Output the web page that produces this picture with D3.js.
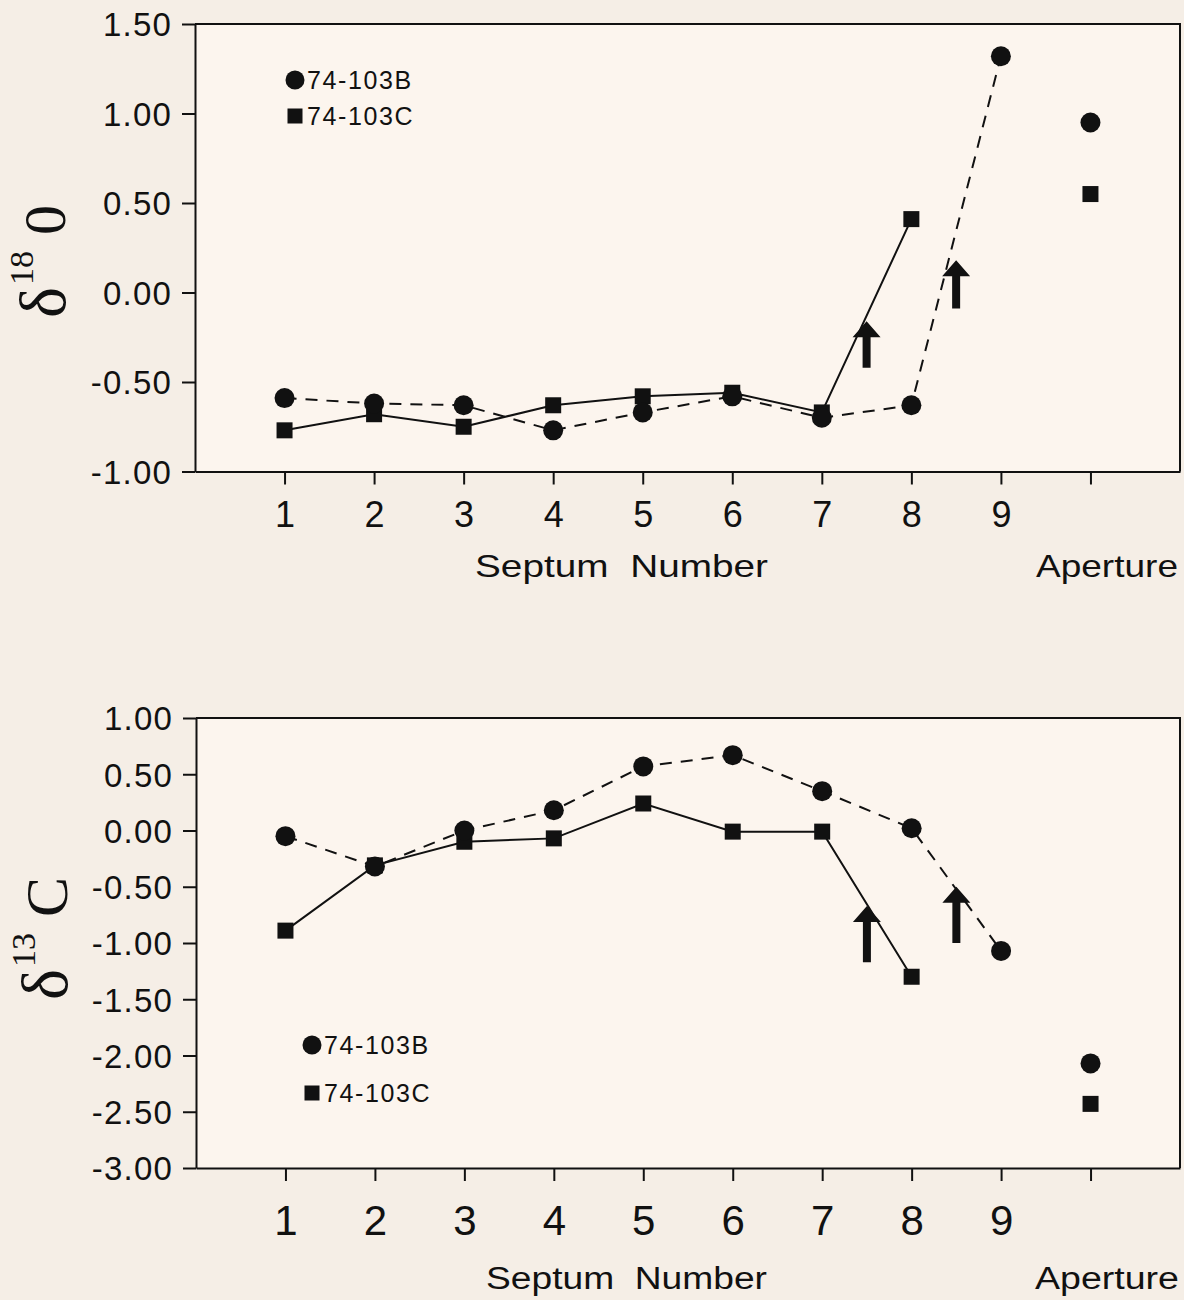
<!DOCTYPE html>
<html>
<head>
<meta charset="utf-8">
<script src="https://cdn.jsdelivr.net/npm/d3@7"></script>
<style>
  body { margin: 0; background: #f5eee6; }
  svg { display: block; font-family: "Liberation Sans", Arial, sans-serif; }
</style>
</head>
<body>
<svg id="chart" width="1184" height="1300"></svg>
<script>
// Septum numbers 1..9, position 10 is the aperture
const septa = [1, 2, 3, 4, 5, 6, 7, 8, 9];
const xTicks = [1, 2, 3, 4, 5, 6, 7, 8, 9, 10];
const xTickLabels = ["1", "2", "3", "4", "5", "6", "7", "8", "9", ""];
const aperturePos = 10;
const seriesNames = ["74-103B", "74-103C"];

// delta 18 O
const o18B = [-0.59, -0.62, -0.63, -0.77, -0.67, -0.58, -0.70, -0.63, 1.32];
const o18C = [-0.77, -0.68, -0.75, -0.63, -0.58, -0.56, -0.67, 0.41];
const o18Aperture = [0.95, 0.55];
const o18Ticks = [1.5, 1.0, 0.5, 0, -0.5, -1.0];
const o18TickLabels = ["1.50", "1.00", "0.50", "0.00", "-0.50", "-1.00"];
const o18Arrows = [[7.5, -0.42, -0.16], [8.5, -0.09, 0.18]];

// delta 13 C
const c13B = [-0.05, -0.32, 0.00, 0.18, 0.57, 0.67, 0.35, 0.02, -1.07];
const c13C = [-0.89, -0.31, -0.10, -0.07, 0.24, -0.01, -0.01, -1.30];
const c13Aperture = [-2.07, -2.43];
const c13Ticks = [1.0, 0.5, 0, -0.5, -1.0, -1.5, -2.0, -2.5, -3.0];
const c13TickLabels = ["1.00", "0.50", "0.00", "-0.50", "-1.00", "-1.50", "-2.00", "-2.50", "-3.00"];
const c13Arrows = [[7.5, -1.17, -0.67], [8.5, -1.00, -0.50]];

const ink = "#111";
const svg = d3.select("#chart");

function drawPanel(p) {
  var x = d3.scaleLinear().domain([0, 11]).range([p.left, p.right]),
    y = d3.scaleLinear().domain(p.yDomain).range([p.bottom, p.top]);

  var g = svg.append("g");

  // plot area
  g.append("rect")
    .attr("x", p.left).attr("y", p.top)
    .attr("width", p.right - p.left).attr("height", p.bottom - p.top)
    .attr("fill", "#fcf5ee");
  g.append("path")
    .attr("d", "M" + p.left + "," + p.top + "H" + p.right + "V" + p.bottom)
    .attr("fill", "none").attr("stroke", ink).attr("stroke-width", 2);

  // axes
  var axisY = d3.axisLeft(y).tickValues(p.ticks).tickSize(13).tickSizeOuter(0)
    .tickFormat((d, i) => p.tickLabels[i]);
  var gy = g.append("g").attr("transform", "translate(" + p.left + ",0)").call(axisY);
  gy.selectAll("path, line").attr("stroke", ink).attr("stroke-width", 2);
  gy.selectAll("text")
    .attr("x", -23).attr("dy", "0.36em")
    .attr("fill", ink).attr("font-size", p.yFont).attr("letter-spacing", 1.2)
    .attr("font-family", "Liberation Sans, Arial, sans-serif");

  var axisX = d3.axisBottom(x).tickValues(xTicks).tickSize(13).tickSizeOuter(0)
    .tickFormat((d, i) => xTickLabels[i]);
  var gx = g.append("g").attr("transform", "translate(0," + p.bottom + ")").call(axisX);
  gx.selectAll("path, line").attr("stroke", ink).attr("stroke-width", 2);
  gx.selectAll("text")
    .attr("y", p.xLabelY).attr("dy", 0)
    .attr("fill", ink).attr("font-size", p.xFont)
    .attr("font-family", "Liberation Sans, Arial, sans-serif");

  // axis titles
  g.append("text")
    .attr("x", p.titleX).attr("y", p.titleY)
    .attr("font-size", p.titleFont).attr("fill", ink)
    .attr("textLength", p.titleLen).attr("lengthAdjust", "spacingAndGlyphs")
    .style("white-space", "pre")
    .text("Septum  Number");
  g.append("text")
    .attr("x", p.apX).attr("y", p.titleY)
    .attr("font-size", p.titleFont).attr("fill", ink)
    .attr("textLength", p.apLen).attr("lengthAdjust", "spacingAndGlyphs")
    .text("Aperture");

  // vertical delta label
  var lab = g.append("text")
    .attr("transform", "translate(" + p.deltaX + "," + p.deltaY + ") rotate(-90)")
    .attr("font-family", "Liberation Serif, Times New Roman, serif")
    .attr("fill", ink);
  lab.append("tspan").attr("font-size", 66).text("δ");
  lab.append("tspan").attr("font-size", 34).attr("dx", 2).attr("dy", -32).text(p.iso);
  lab.append("tspan").attr("font-size", 60).attr("dx", 16).attr("dy", 32).text(p.elem);

  // lines
  var line = d3.line().x((d, i) => x(septa[i])).y((d) => y(d));
  g.append("path").datum(p.b)
    .attr("d", line).attr("fill", "none").attr("stroke", ink)
    .attr("stroke-width", 2).attr("stroke-dasharray", "12,9");
  g.append("path").datum(p.c)
    .attr("d", line).attr("fill", "none").attr("stroke", ink)
    .attr("stroke-width", 2);

  // arrows: [x, tail, tip]
  g.selectAll(".arrow").data(p.arrows).enter().append("path")
    .attr("class", "arrow")
    .attr("fill", ink)
    .attr("d", (a) => {
      var ax = x(a[0]), tail = y(a[1]), tip = y(a[2]);
      var hw = 14, sw = 4, hh = 16;
      return "M" + ax + "," + tip +
        "L" + (ax + hw) + "," + (tip + hh) +
        "L" + (ax + sw) + "," + (tip + hh) +
        "L" + (ax + sw) + "," + tail +
        "L" + (ax - sw) + "," + tail +
        "L" + (ax - sw) + "," + (tip + hh) +
        "L" + (ax - hw) + "," + (tip + hh) + "Z";
    });

  // markers
  var sq = 16;
  g.selectAll(".ptC").data(p.c).enter().append("rect")
    .attr("x", (d, i) => x(septa[i]) - sq / 2).attr("y", (d) => y(d) - sq / 2)
    .attr("width", sq).attr("height", sq).attr("fill", ink);
  g.selectAll(".ptB").data(p.b).enter().append("circle")
    .attr("cx", (d, i) => x(septa[i])).attr("cy", (d) => y(d))
    .attr("r", 10).attr("fill", ink);
  g.append("circle").attr("cx", x(aperturePos)).attr("cy", y(p.ap[0]))
    .attr("r", 10).attr("fill", ink);
  g.append("rect").attr("x", x(aperturePos) - sq / 2).attr("y", y(p.ap[1]) - sq / 2)
    .attr("width", sq).attr("height", sq).attr("fill", ink);

  // legend
  var lg = g.append("g").attr("transform", "translate(" + p.legX + "," + p.legY + ")");
  lg.append("circle").attr("cx", 0).attr("cy", 0).attr("r", 9.5).attr("fill", ink);
  lg.append("rect").attr("x", -7.5).attr("y", p.legGap - 7.5)
    .attr("width", 15).attr("height", 15).attr("fill", ink);
  lg.selectAll("text").data(seriesNames).enter().append("text")
    .attr("x", 12).attr("y", (d, i) => i * p.legGap + 9)
    .attr("font-size", 25).attr("letter-spacing", 1.6).attr("fill", ink)
    .text((d) => d);
}

drawPanel({
  left: 195, right: 1180, top: 24, bottom: 471.5,
  yDomain: [-1, 1.5], ticks: o18Ticks, tickLabels: o18TickLabels,
  b: o18B, c: o18C, ap: o18Aperture, arrows: o18Arrows,
  yFont: 33, xFont: 36, xLabelY: 55,
  titleX: 475, titleY: 577, titleFont: 32, titleLen: 293, apX: 1036, apLen: 142,
  deltaX: 65, deltaY: 318, iso: "18", elem: "0",
  legX: 295, legY: 80, legGap: 36
});

drawPanel({
  left: 196, right: 1180, top: 718, bottom: 1168,
  yDomain: [-3, 1], ticks: c13Ticks, tickLabels: c13TickLabels,
  b: c13B, c: c13C, ap: c13Aperture, arrows: c13Arrows,
  yFont: 33, xFont: 42, xLabelY: 67,
  titleX: 486, titleY: 1289, titleFont: 31, titleLen: 281, apX: 1035, apLen: 144,
  deltaX: 67, deltaY: 1000, iso: "13", elem: "C",
  legX: 312, legY: 1045, legGap: 48
});
</script>
</body>
</html>
